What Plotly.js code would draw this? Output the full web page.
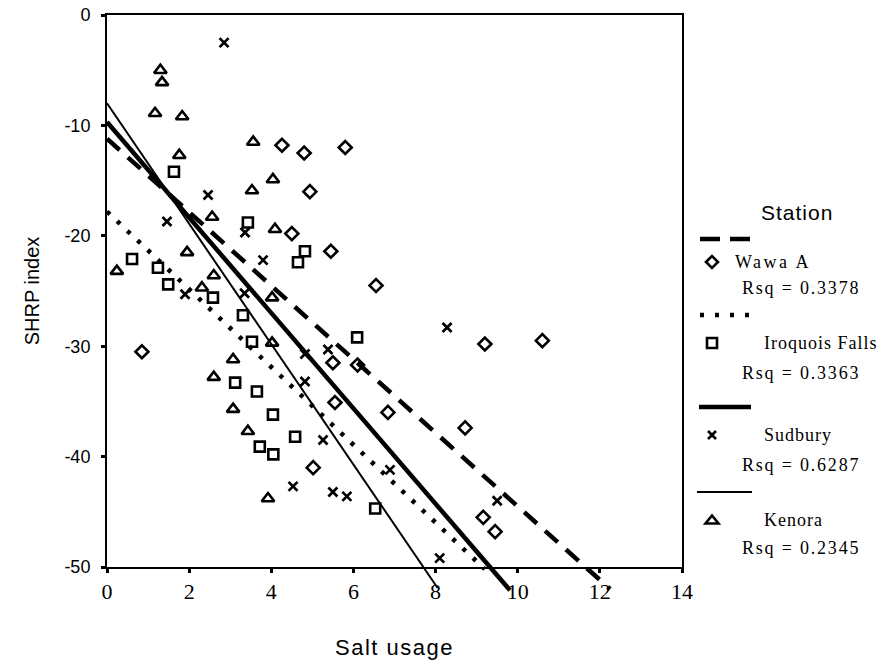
<!DOCTYPE html>
<html>
<head>
<meta charset="utf-8">
<script src="https://cdn.plot.ly/plotly-3.0.1.min.js"></script>
<style>html,body{margin:0;padding:0;background:#fff;}#chart{width:888px;height:664px;}</style>
</head>
<body>
<div id="chart"></div>
<script>
// ---- data ----
const stations = ["Wawa A", "Iroquois Falls", "Sudbury", "Kenora"];
const rsqText = ["0.3378", "0.3363", "0.6287", "0.2345"];

const wawaX = [0.85, 4.26, 4.8, 5.8, 4.94, 4.5, 5.45, 6.55, 5.5, 6.1, 5.55, 6.84, 8.72, 5.02, 9.2, 10.6, 9.16, 9.45];
const wawaY = [-30.5, -11.8, -12.5, -12.0, -16.0, -19.8, -21.4, -24.5, -31.5, -31.7, -35.1, -36.0, -37.4, -41.0, -29.8, -29.5, -45.5, -46.8];

const iroqX = [0.61, 1.24, 1.49, 1.63, 2.58, 3.43, 4.65, 4.82, 3.31, 3.53, 6.09, 3.12, 3.65, 4.04, 4.58, 3.72, 4.05, 6.53];
const iroqY = [-22.1, -22.9, -24.4, -14.2, -25.6, -18.8, -22.4, -21.4, -27.2, -29.6, -29.2, -33.3, -34.1, -36.2, -38.2, -39.1, -39.8, -44.7];

const sudX = [2.85, 2.46, 1.46, 1.9, 3.36, 3.8, 3.35, 4.82, 4.82, 5.38, 8.28, 5.26, 6.89, 4.53, 5.5, 5.84, 8.1, 9.5];
const sudY = [-2.5, -16.3, -18.7, -25.3, -19.7, -22.2, -25.2, -30.7, -33.2, -30.3, -28.3, -38.5, -41.2, -42.7, -43.2, -43.6, -49.2, -44.0];

const kenX = [0.24, 1.3, 1.34, 1.17, 1.83, 1.76, 3.56, 4.04, 3.53, 2.56, 1.95, 2.6, 2.31, 4.02, 4.09, 4.02, 3.07, 2.6, 3.07, 3.43, 3.92];
const kenY = [-23.2, -5.0, -6.1, -8.9, -9.2, -12.7, -11.5, -14.9, -15.9, -18.3, -21.5, -23.6, -24.7, -25.6, -19.4, -29.7, -31.2, -32.8, -35.7, -37.7, -43.8];

// fitted regression lines (start / end)
const fitX0 = [0, 0, 0, 0];
const fitY0 = [-11.2, -17.8, -9.7, -8.0];
const fitX1 = [12.25, 9.2, 9.81, 8.05];
const fitY1 = [-52.0, -50.2, -52.1, -51.9];

const xTickVals = [0, 2, 4, 6, 8, 10, 12, 14];
const xTickText = ["0", "2", "4", "6", "8", "10", "12", "14"];
const yTickVals = [0, -10, -20, -30, -40, -50];
const yTickText = ["0", "-10", "-20", "-30", "-40", "-50"];

// ---- styles ----
const SANS = "Liberation Sans, Arial, sans-serif";
const SERIF = "Liberation Serif, Times New Roman, serif";
const W = 888, H = 664;
const M = {l: 107, r: 206, t: 15, b: 64};
const plotW = W - M.l - M.r, plotH = H - M.t - M.b;
const axisBottomPx = 567;
const yDomLow = (H - M.b - axisBottomPx) / plotH;
const y2Min = -50 / (1 - yDomLow);

const markerStyles = [
  {symbol: "diamond-open", size: 10, color: "#000", line: {width: 2.6, color: "#000"}},
  {symbol: "square-open", size: 10, color: "#000", line: {width: 2.6, color: "#000"}},
  {symbol: "x-thin-open", size: 9, color: "#000", line: {width: 2.7, color: "#000"}},
  {symbol: "triangle-up-open", size: 11, color: "#000", line: {width: 2.6, color: "#000"}}
];
const lineStyles = [
  {color: "#000", width: 4.5, dash: "17px,11px"},
  {color: "#000", width: 4.5, dash: "4px,10px"},
  {color: "#000", width: 4.5, dash: "solid"},
  {color: "#000", width: 2, dash: "solid"}
];

const xs = [wawaX, iroqX, sudX, kenX];
const ys = [wawaY, iroqY, sudY, kenY];

const traces = [];
for (let i = 0; i < 4; i++) {
  traces.push({
    type: "scatter", mode: "markers", name: stations[i],
    x: xs[i], y: ys[i], xaxis: "x", yaxis: "y",
    marker: markerStyles[i], cliponaxis: false, showlegend: false, hoverinfo: "x+y+name"
  });
}
for (let i = 0; i < 4; i++) {
  traces.push({
    type: "scatter", mode: "lines", name: stations[i] + " fit",
    x: [fitX0[i], fitX1[i]], y: [fitY0[i], fitY1[i]], xaxis: "x2", yaxis: "y2",
    line: lineStyles[i], showlegend: false, hoverinfo: "skip"
  });
}

// ---- hand-drawn legend (in paper coords, from pixel positions) ----
const px2x = p => (p - M.l) / plotW;
const px2y = p => (H - M.b - p) / plotH;
const shapes = [];
const annotations = [];

annotations.push({xref: "paper", yref: "paper", x: px2x(797), y: px2y(212), xanchor: "center", yanchor: "middle",
  text: '<span style="letter-spacing:1px">Station</span>', showarrow: false, font: {family: SANS, size: 21, color: "#000"}});

const rowTop = [239, 315, 407, 492];
const nameX = [733, 762, 762, 762];
const rowMarker = [262, 343, 435, 520];
const rowRsq = [288, 373, 465, 548];
const legendDash = ["20px,10px", "4px,11px", "solid", "solid"];
const legendLineX = [[700, 750], [700, 750], [699, 751], [697, 752]];

const glyphPaths = [
  "M -6 0 L 0 6 L 6 0 L 0 -6 Z",
  "M -5 -5 L 5 -5 L 5 5 L -5 5 Z",
  "M -4 -4 L 4 4 M -4 4 L 4 -4",
  "M -6.5 -3.5 L 6.5 -3.5 L 0 4.5 Z"
];

for (let i = 0; i < 4; i++) {
  shapes.push({type: "line", xref: "paper", yref: "paper",
    x0: px2x(legendLineX[i][0]), x1: px2x(legendLineX[i][1]), y0: px2y(rowTop[i]), y1: px2y(rowTop[i]),
    line: {color: "#000", width: lineStyles[i].width, dash: legendDash[i]}});
  shapes.push({type: "path", xref: "paper", yref: "paper", xsizemode: "pixel", ysizemode: "pixel",
    xanchor: px2x(712), yanchor: px2y(rowMarker[i]), path: glyphPaths[i],
    line: {color: "#000", width: 2.6}, fillcolor: "rgba(0,0,0,0)"});
  annotations.push({xref: "paper", yref: "paper", x: px2x(nameX[i]), y: px2y(rowMarker[i]), xanchor: "left", yanchor: "middle",
    text: '<span style="letter-spacing:' + (i === 0 ? 2.5 : 1) + 'px">' + stations[i] + '</span>', showarrow: false,
    font: {family: SERIF, size: 18, color: "#000"}});
  annotations.push({xref: "paper", yref: "paper", x: px2x(740), y: px2y(rowRsq[i]), xanchor: "left", yanchor: "middle",
    text: '<span style="letter-spacing:1.8px">Rsq = ' + rsqText[i] + '</span>', showarrow: false,
    font: {family: SERIF, size: 18, color: "#000"}});
}

const baseAxis = {
  showline: true, linecolor: "#000", linewidth: 2, mirror: true,
  showgrid: false, zeroline: false, ticks: "outside", ticklen: 4, tickwidth: 3, tickcolor: "#000"
};

const layout = {
  width: W, height: H, margin: M,
  paper_bgcolor: "#fff", plot_bgcolor: "rgba(0,0,0,0)",
  showlegend: false,
  font: {family: SANS, color: "#000"},
  xaxis: Object.assign({}, baseAxis, {
    domain: [0, 1], range: [0, 14], anchor: "y",
    tickmode: "array", tickvals: xTickVals, ticktext: xTickText,
    tickfont: {family: SERIF, size: 22, color: "#000"},
    title: {text: '<span style="letter-spacing:1.5px">Salt usage</span>', font: {family: SANS, size: 22, color: "#000"}, standoff: 36}
  }),
  yaxis: Object.assign({}, baseAxis, {
    domain: [yDomLow, 1], range: [-50, 0], anchor: "x",
    tickmode: "array", tickvals: yTickVals, ticktext: yTickText,
    tickfont: {family: SANS, size: 18, color: "#000"},
    ticklabelstandoff: 7,
    title: {text: "SHRP index", font: {family: SANS, size: 20, color: "#000"}, standoff: 19}
  }),
  xaxis2: {domain: [0, 1], range: [0, 14], anchor: "y2", visible: false, fixedrange: true},
  yaxis2: {domain: [0, 1], range: [y2Min, 0], anchor: "x2", visible: false, fixedrange: true},
  shapes: shapes,
  annotations: annotations
};

Plotly.newPlot("chart", traces, layout, {displayModeBar: false, staticPlot: true});
</script>
</body>
</html>
